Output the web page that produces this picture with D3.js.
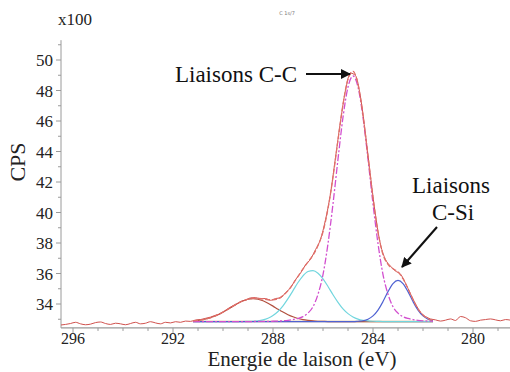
<!DOCTYPE html>
<html><head><meta charset="utf-8">
<script src="https://cdn.jsdelivr.net/npm/d3@7"></script>
<style>
body{margin:0;background:#fff}svg{display:block}
</style>
</head><body>
<svg id="c" width="510" height="372"></svg>
<script>
// ---- data ----
const xTicks = [296, 292, 288, 284, 280];
const yTicks = [34, 36, 38, 40, 42, 44, 46, 48, 50];

// raw spectrum (eV, counts x100)
const rawE = [296.5,296.3,296.1,295.9,295.7,295.5,295.3,295.1,294.9,294.7,294.5,294.3,294.1,293.9,293.7,293.5,293.3,293.1,292.9,292.7,292.5,292.3,292.1,291.9,291.7,291.5,291.3,291.1,290.9,290.7,290.5,290.3,290.1,289.9,289.7,289.5,289.3,289.1,288.9,288.7,288.5,288.3,288.1,287.9,287.7,287.5,287.3,287.1,286.9,286.7,286.5,286.3,286.1,285.9,285.7,285.5,285.3,285.1,284.9,284.7,284.5,284.3,284.1,283.9,283.7,283.5,283.3,283.1,282.9,282.7,282.5,282.3,282.1,281.9,281.7,281.5,281.3,281.1,280.9,280.7,280.5,280.3,280.1,279.9,279.7,279.5,279.3,279.1,278.9,278.7,278.5];
const rawY = [32.62,32.66,32.72,32.80,32.70,32.64,32.68,32.78,32.82,32.72,32.66,32.74,32.70,32.64,32.72,32.80,32.70,32.74,32.84,32.76,32.70,32.80,32.76,32.84,32.80,32.88,32.86,32.95,32.98,33.06,33.14,33.26,33.36,33.58,33.80,33.94,34.16,34.24,34.40,34.42,34.34,34.36,34.24,34.36,34.40,34.74,35.06,35.60,36.02,36.56,36.94,37.56,38.24,39.52,41.24,43.60,45.98,48.02,49.14,48.98,47.56,45.12,42.38,39.82,37.90,36.92,36.48,36.16,35.96,35.36,34.66,34.00,33.46,33.18,33.02,32.96,32.88,32.94,33.02,32.92,33.18,33.10,32.90,32.86,32.94,32.98,33.02,32.96,32.90,32.98,32.94];

// fit components on the fit range
const compE = [291.2,291.0,290.8,290.6,290.4,290.2,290.0,289.8,289.6,289.4,289.2,289.0,288.8,288.6,288.4,288.2,288.0,287.8,287.6,287.4,287.2,287.0,286.8,286.6,286.4,286.2,286.0,285.8,285.6,285.4,285.2,285.0,284.8,284.6,284.4,284.2,284.0,283.8,283.6,283.4,283.2,283.0,282.8,282.6,282.4,282.2,282.0,281.8,281.6];
const baseE = [291.2, 281.6];
const baseY = [32.85, 32.85];
const peakCO = [32.89,32.93,32.98,33.05,33.16,33.30,33.47,33.66,33.86,34.05,34.21,34.31,34.35,34.31,34.21,34.05,33.86,33.66,33.47,33.30,33.16,33.05,32.98,32.93,32.89,32.87,32.86,32.85,32.85,32.85,32.85,32.85,32.85,32.85,32.85,32.85,32.85,32.85,32.85,32.85,32.85,32.85,32.85,32.85,32.85,32.85,32.85,32.85,32.85];
const peakCOx = [32.85,32.85,32.85,32.85,32.85,32.85,32.85,32.85,32.85,32.85,32.85,32.86,32.87,32.90,32.96,33.07,33.25,33.51,33.88,34.35,34.88,35.41,35.85,36.13,36.19,36.02,35.65,35.15,34.61,34.11,33.68,33.37,33.15,33.01,32.93,32.89,32.87,32.86,32.85,32.85,32.85,32.85,32.85,32.85,32.85,32.85,32.85,32.85,32.85];
const peakCC = [32.85,32.85,32.85,32.85,32.85,32.85,32.85,32.85,32.85,32.85,32.85,32.85,32.85,32.86,32.86,32.86,32.87,32.88,32.90,32.93,32.98,33.05,33.17,33.40,33.82,34.64,35.93,37.96,40.57,43.50,46.25,48.23,48.95,48.23,46.25,43.50,40.57,37.96,35.93,34.64,33.82,33.40,33.17,33.05,32.98,32.93,32.90,32.88,32.87];
const peakCSi = [32.85,32.85,32.85,32.85,32.85,32.85,32.85,32.85,32.85,32.85,32.85,32.85,32.85,32.85,32.85,32.85,32.85,32.85,32.85,32.85,32.85,32.85,32.85,32.85,32.85,32.85,32.85,32.85,32.85,32.85,32.85,32.85,32.85,32.87,32.90,33.00,33.22,33.60,34.16,34.81,35.34,35.55,35.34,34.81,34.16,33.60,33.22,33.00,32.90];
const envelope = [32.89,32.93,32.98,33.05,33.16,33.30,33.47,33.66,33.86,34.05,34.21,34.32,34.37,34.37,34.33,34.28,34.28,34.35,34.55,34.88,35.32,35.81,36.30,36.76,37.20,37.83,38.74,40.26,42.33,44.76,47.08,48.75,49.25,48.41,46.38,43.69,40.96,38.72,37.24,36.60,36.31,36.10,35.66,35.01,34.29,33.68,33.27,33.03,32.92];

// ---- drawing ----
const FONT = 'Liberation Serif, Tinos, DejaVu Serif, Noto Serif, serif';
const svg = d3.select('#c');
const x = d3.scaleLinear().domain([296, 280]).range([73, 473]);
const y = d3.scaleLinear().domain([34, 50]).range([304, 60]);
const xL = x(296.48), xR = 510, yB = y(32.43), yT = y(51.3);

const defs = svg.append('defs');
defs.append('clipPath').attr('id','clip')
  .append('rect').attr('x', xL).attr('y', yT).attr('width', xR - xL).attr('height', yB - yT);

function txt(sel) { return sel.attr('font-family', FONT).style('font-family', FONT); }

// axes
const axisCol = '#9a9a9a';
svg.append('line').attr('x1', xL).attr('x2', xL).attr('y1', yT).attr('y2', yB).attr('stroke', axisCol);
svg.append('line').attr('x1', xL).attr('x2', xR).attr('y1', yB).attr('y2', yB).attr('stroke', axisCol).attr('stroke-width',1.2);

const yMinor = d3.range(33, 52, 1);
svg.append('g').selectAll('line').data(yMinor).join('line')
  .attr('x1', d => xL - (d % 2 === 0 ? 5 : 3)).attr('x2', xL)
  .attr('y1', d => y(d)).attr('y2', d => y(d)).attr('stroke', axisCol);
txt(svg.append('g').selectAll('text').data(yTicks).join('text'))
  .attr('x', xL - 8).attr('y', d => y(d) + 6)
  .attr('text-anchor', 'end').attr('font-size', 17).attr('fill', '#222')
  .text(d => d);

const xMinor = d3.range(279, 297, 1);
svg.append('g').selectAll('line').data(xMinor).join('line')
  .attr('x1', d => x(d)).attr('x2', d => x(d))
  .attr('y1', yB).attr('y2', d => yB + (d % 4 === 0 ? 5 : 3)).attr('stroke', axisCol);
txt(svg.append('g').selectAll('text').data(xTicks).join('text'))
  .attr('x', d => x(d)).attr('y', 344)
  .attr('text-anchor', 'middle').attr('font-size', 16).attr('fill', '#222')
  .text(d => d);

txt(svg.append('text')).attr('x', 58).attr('y', 25).attr('font-size', 17).attr('fill', '#222').text('x100');
txt(svg.append('text')).attr('transform', 'translate(25,162) rotate(-90)').attr('text-anchor', 'middle')
  .attr('font-size', 22).attr('fill', '#222').text('CPS');
txt(svg.append('text')).attr('x', 302).attr('y', 366).attr('text-anchor', 'middle')
  .attr('font-size', 21).attr('fill', '#222').text('Energie de laison (eV)');
svg.append('text').attr('x', 287).attr('y', 15).attr('text-anchor', 'middle')
  .attr('font-family', 'DejaVu Sans').attr('font-size', 5).attr('fill', '#777').text('C 1s/7');

// curves
const g = svg.append('g').attr('clip-path', 'url(#clip)');
const line = d3.line().x(d => x(d[0])).y(d => y(d[1])).curve(d3.curveMonotoneX);
const zip = (a, b) => a.map((v, i) => [v, b[i]]);

g.append('path').datum(zip(baseE, baseY)).attr('d', line).attr('fill','none').attr('stroke','#c9a777').attr('stroke-width',1.6);
g.append('path').datum(zip(compE, peakCO)).attr('d', line).attr('fill','none').attr('stroke','#b2503f').attr('stroke-width',1.2);
g.append('path').datum(zip(compE, peakCOx)).attr('d', line).attr('fill','none').attr('stroke','#72d6de').attr('stroke-width',1.2);
g.append('path').datum(zip(compE, peakCSi)).attr('d', line).attr('fill','none').attr('stroke','#4f62d2').attr('stroke-width',1.2);
g.append('path').datum(zip(compE, peakCC)).attr('d', line).attr('fill','none').attr('stroke','#d24fcf').attr('stroke-width',1.3).attr('stroke-dasharray','7,2,2,2');
g.append('path').datum(zip(rawE, rawY)).attr('d', line).attr('fill','none').attr('stroke','#d0524e').attr('stroke-width',1);
g.append('path').datum(zip(compE, envelope)).attr('d', line).attr('fill','none').attr('stroke','#e0706a').attr('stroke-width',1.3).attr('stroke-dasharray','5,2');

// annotations
defs.append('marker').attr('id','ah').attr('viewBox','0 0 10 10').attr('refX',9).attr('refY',5)
  .attr('markerWidth',5).attr('markerHeight',5).attr('orient','auto')
  .append('path').attr('d','M0,0 L10,5 L0,10 z').attr('fill','#111');

txt(svg.append('text')).attr('x', 297).attr('y', 82).attr('text-anchor','end')
  .attr('font-size', 23).attr('fill','#111').text('Liaisons C-C');
svg.append('line').attr('x1', 306).attr('y1', 74).attr('x2', 350).attr('y2', 74)
  .attr('stroke','#111').attr('stroke-width',2).attr('marker-end','url(#ah)');

txt(svg.append('text')).attr('x', 451).attr('y', 193).attr('text-anchor','middle')
  .attr('font-size', 23).attr('fill','#111').text('Liaisons');
txt(svg.append('text')).attr('x', 453).attr('y', 220).attr('text-anchor','middle')
  .attr('font-size', 23).attr('fill','#111').text('C-Si');
svg.append('line').attr('x1', 437).attr('y1', 227).attr('x2', 402).attr('y2', 267)
  .attr('stroke','#111').attr('stroke-width',2).attr('marker-end','url(#ah)');
</script>
</body></html>
